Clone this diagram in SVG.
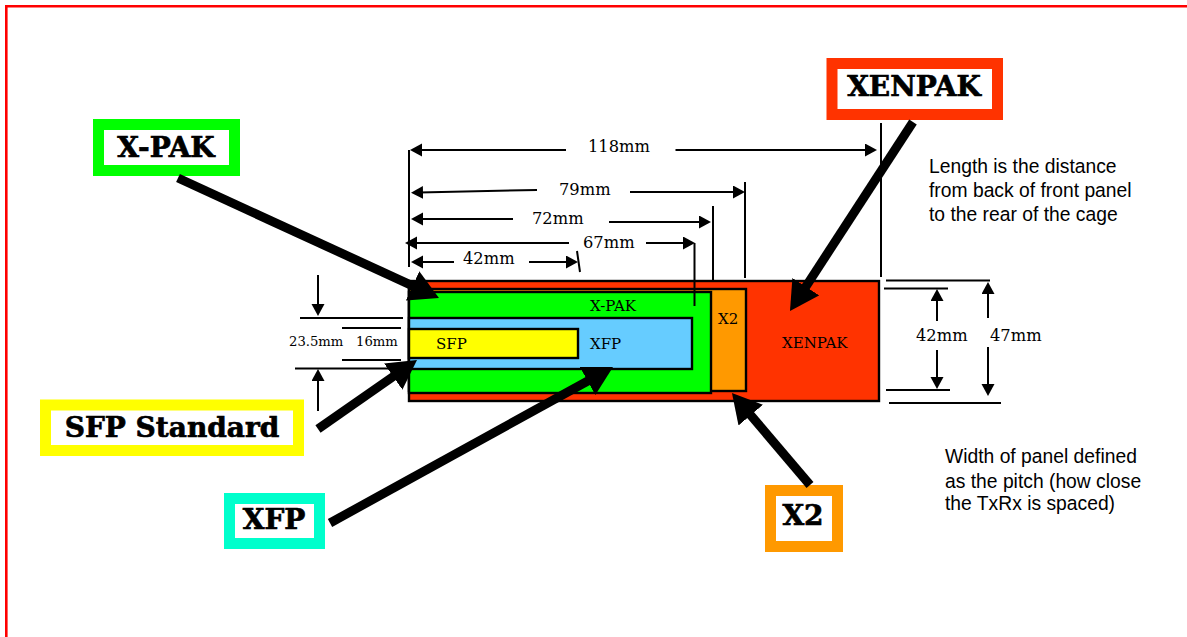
<svg xmlns="http://www.w3.org/2000/svg" width="1187" height="637" viewBox="0 0 1187 637">
<style>
text{font-family:"DejaVu Serif",serif;fill:#000}
.dim{font-size:16.300px}
.sm{font-size:13.200px}
.in{font-size:15px}
.lab{font-size:28px;font-weight:bold;text-anchor:middle;stroke:#000;stroke-width:.7}
.note{font-family:"Liberation Sans",Arial,sans-serif;font-size:19.300px}
.box{stroke:#000;stroke-width:2.400}
.frame{fill:#fff;stroke-width:11}
.t{stroke:#000;stroke-width:2;fill:none}
.a{stroke:#000;stroke-width:2;fill:none;marker-end:url(#h)}
.b{stroke:#000;stroke-width:9;fill:none;marker-end:url(#H)}
</style>
<defs>
<marker id="h" markerUnits="userSpaceOnUse" markerWidth="13" markerHeight="14" refX="4" refY="6.5" orient="auto"><path d="M0 0L12 6.500L0 13z" fill="#000"/></marker>
<marker id="H" markerUnits="userSpaceOnUse" markerWidth="30" markerHeight="34" refX="9" refY="16" orient="auto"><path d="M0 0L29 16L0 32z" fill="#000"/></marker>
</defs>
<rect width="1187" height="637" fill="#fff"/>
<path d="M1187 6.300H6.300V637" fill="none" stroke="#f00" stroke-width="2.600"/>
<g id="xenpak-module"><rect class="box" x="409" y="281" width="470" height="120" fill="#f30"/><text class="in" x="782" y="348">XENPAK</text></g>
<g id="x2-module"><rect class="box" x="409" y="289" width="337" height="102" fill="#f90"/><text class="in" x="718" y="324">X2</text></g>
<g id="xpak-module"><rect class="box" x="409" y="292" width="302" height="101" fill="#0f0"/><text class="in" x="590" y="311">X-PAK</text></g>
<g id="xfp-module"><rect class="box" x="409" y="318" width="283" height="51" fill="#6cf"/><text class="in" x="590" y="349">XFP</text></g>
<g id="sfp-module"><rect class="box" x="409" y="329" width="169" height="29" fill="#ff0"/><text class="in" x="436" y="349">SFP</text></g>
<g id="xpak-label"><rect class="frame" x="98.500" y="124.500" width="136" height="46" stroke="#0f0"/><text class="lab" x="166" y="157">X-PAK</text></g>
<g id="xenpak-label"><rect class="frame" x="832" y="63.500" width="165.500" height="51" stroke="#f30"/><text class="lab" x="914" y="96">XENPAK</text></g>
<g id="sfp-label"><rect class="frame" x="45.500" y="405" width="253" height="45.500" stroke="#ff0"/><text class="lab" x="172" y="437">SFP Standard</text></g>
<g id="xfp-label"><rect class="frame" x="229.500" y="498.500" width="90" height="45" stroke="#0fc"/><text class="lab" x="274" y="529">XFP</text></g>
<g id="x2-label"><rect class="frame" x="770.500" y="490.500" width="67" height="56" stroke="#f90"/><text class="lab" x="803" y="525">X2</text></g>
<g id="connectors">
<path class="t" d="M409 150V267M881 123V277M745 182V278M713 206V281M694.500 243V306M577 251L580 272M300 318H403M342 328H401M342 360H401M295 368.500H403M886 280.500H990M884 288.500H948M886 390H950M889 403H1001"/>
<path class="a" d="M566 150H418"/><path class="a" d="M675.500 150H869"/>
<path class="a" d="M537 190L419 192.500"/><path class="a" d="M630 192H737"/>
<path class="a" d="M513 219H419"/><path class="a" d="M609 222H703"/>
<path class="a" d="M569 243H413"/><path class="a" d="M646 243H687"/>
<path class="a" d="M454 262H419"/><path class="a" d="M529 262H570"/>
<path class="a" d="M318 275V308"/><path class="a" d="M318 411V377"/>
<path class="a" d="M937 321V297"/><path class="a" d="M937 350V381"/>
<path class="a" d="M988 318V290"/><path class="a" d="M988 347V388"/>
<path class="b" d="M178 178L420.800 289.600"/>
<path class="b" d="M913 122L800.900 294.200"/>
<path class="b" d="M810 485L744.900 408.300"/>
<path class="b" d="M318 429L400.600 371.400"/>
<path class="b" d="M330 523L595.500 376.700"/>
</g>
<g id="dimension-labels">
<text class="dim" x="588" y="152">118mm</text>
<text class="dim" x="559" y="195">79mm</text>
<text class="dim" x="532" y="224">72mm</text>
<text class="dim" x="583" y="248">67mm</text>
<text class="dim" x="463" y="264">42mm</text>
<text class="sm" x="289" y="346">23.5mm</text>
<text class="sm" x="356" y="346">16mm</text>
<text class="dim" x="916" y="341">42mm</text>
<text class="dim" x="990" y="341">47mm</text>
</g>
<g id="notes">
<text class="note" x="929" y="173">Length is the distance</text>
<text class="note" x="929" y="197">from back of front panel</text>
<text class="note" x="929" y="221">to the rear of the cage</text>
<text class="note" x="945" y="463">Width of panel defined</text>
<text class="note" x="945" y="488">as the pitch (how close</text>
<text class="note" x="945" y="510">the TxRx is spaced)</text>
</g>
</svg>
